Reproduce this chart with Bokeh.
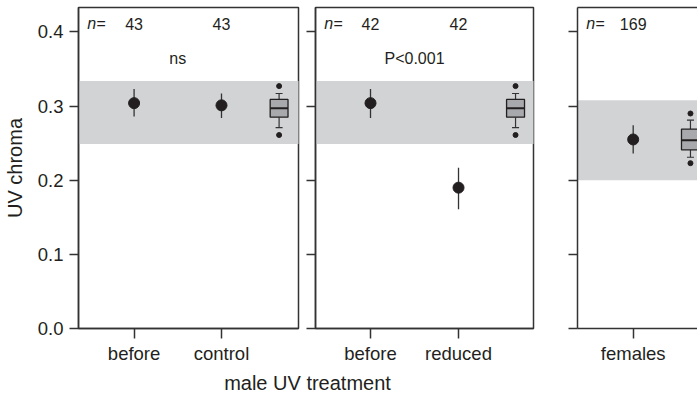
from bokeh.plotting import figure
from bokeh.layouts import row, column
from bokeh.models import (Range1d, FixedTicker, Label, LinearAxis,
                          PrintfTickFormatter, CustomJSTickFormatter)
from bokeh.core.properties import value
from bokeh.embed import file_html
from bokeh.resources import INLINE

# ---------------- data ----------------
y_ticks = [0.0, 0.1, 0.2, 0.3, 0.4]
y_max = 0.433

p1_categories = ["before", "control"]
p1_n = [43, 43]
p1_mean = [0.304, 0.301]
p1_lower = [0.286, 0.284]
p1_upper = [0.323, 0.317]
p1_test = "ns"
p1_band = [0.249, 0.334]

p2_categories = ["before", "reduced"]
p2_n = [42, 42]
p2_mean = [0.304, 0.190]
p2_lower = [0.284, 0.161]
p2_upper = [0.323, 0.217]
p2_test = "P<0.001"
p2_band = [0.249, 0.334]

p3_categories = ["females"]
p3_n = [169]
p3_mean = [0.255]
p3_lower = [0.236]
p3_upper = [0.274]
p3_band = [0.200, 0.308]

male_box_quartiles = [0.285, 0.297, 0.309]
male_box_whiskers = [0.271, 0.317]
male_box_outliers = [0.261, 0.327]

female_box_quartiles = [0.241, 0.254, 0.269]
female_box_whiskers = [0.231, 0.281]
female_box_outliers = [0.223, 0.290]

# ---------------- style ----------------
FONT = "Liberation Sans"
INK = "#231f20"
LINE = "#333333"
BAND = "#d1d3d4"
BOXFILL = "#a7a9ac"
H = 366
N_Y = 0.411
TEST_Y = 0.364
ANN_SIZE = "16px"


def make_panel(cats, n, mean, lower, upper, band, bq, bw, bo, test,
               width, left, right, x0, x1, box_offset, first=False, outline=True):
    p = figure(width=width, height=H, x_range=Range1d(x0, x1), y_range=Range1d(0, y_max),
               output_backend="svg", toolbar_location=None,
               min_border_left=left, min_border_right=right,
               min_border_top=7, min_border_bottom=H - 329)
    p.grid.visible = False
    p.background_fill_color = "white"
    p.border_fill_color = "white"
    if outline:
        p.outline_line_color = LINE
        p.outline_line_width = 1.5
        p.outline_line_alpha = 1
    else:
        p.outline_line_color = None

    pos = list(range(1, len(cats) + 1))

    # x axis
    xa = p.xaxis[0]
    xa.ticker = FixedTicker(ticks=pos)
    xa.major_label_overrides = {k: c for k, c in zip(pos, cats)}
    xa.major_tick_out = 10
    xa.major_tick_in = 0
    xa.minor_tick_line_color = None
    xa.axis_line_color = LINE
    xa.axis_line_width = 1.5
    xa.major_tick_line_color = LINE
    xa.major_tick_line_width = 1.5
    xa.major_label_text_font = FONT
    xa.major_label_text_font_size = "18.5px"
    xa.major_label_text_color = INK
    xa.major_label_standoff = 4

    # y axis
    ya = p.yaxis[0]
    ya.ticker = FixedTicker(ticks=y_ticks)
    ya.major_tick_out = 9
    ya.major_tick_in = 0
    ya.minor_tick_line_color = None
    ya.axis_line_color = LINE
    ya.axis_line_width = 1.5
    ya.major_tick_line_color = LINE
    ya.major_tick_line_width = 1.5
    if first:
        ya.formatter = PrintfTickFormatter(format="%.1f")
        ya.major_label_text_font = FONT
        ya.major_label_text_font_size = "18.5px"
        ya.major_label_text_color = INK
        ya.major_label_standoff = 6
        ya.axis_label = "UV chroma"
        ya.axis_label_text_font = FONT
        ya.axis_label_text_font_size = "20px"
        ya.axis_label_text_font_style = "normal"
        ya.axis_label_text_color = INK
        ya.axis_label_standoff = 9
    else:
        ya.formatter = CustomJSTickFormatter(code="return ''")
        ya.major_label_standoff = 0

    # shaded reference band
    p.quad(left=x0 - 1, right=x1 + 1, bottom=band[0], top=band[1],
           fill_color=BAND, line_color=None)

    # means with error bars
    p.segment(x0=pos, y0=lower, x1=pos, y1=upper, line_color=LINE, line_width=1.3)
    p.scatter(x=pos, y=mean, size=11, fill_color=INK, line_color=INK)

    # box plot
    bx = len(cats) + box_offset
    hw = 0.102
    cw = 0.04
    p.segment(x0=[bx, bx], y0=[bq[2], bq[0]], x1=[bx, bx], y1=[bw[1], bw[0]],
              line_color=LINE, line_width=1.2)
    p.segment(x0=[bx - cw, bx - cw], y0=bw, x1=[bx + cw, bx + cw], y1=bw,
              line_color=LINE, line_width=1.2)
    p.quad(left=bx - hw, right=bx + hw, bottom=bq[0], top=bq[2],
           fill_color=BOXFILL, line_color=INK, line_width=1.3)
    p.segment(x0=bx - hw, y0=bq[1], x1=bx + hw, y1=bq[1], line_color=INK, line_width=2)
    p.scatter(x=[bx] * len(bo), y=bo, size=5, fill_color=INK, line_color=INK)

    # sample sizes
    p.text(x=pos, y=[N_Y] * len(pos), text=[str(v) for v in n],
           text_font=value(FONT), text_font_size=ANN_SIZE, text_color=INK,
           text_align="center", text_baseline="alphabetic")
    p.add_layout(Label(x=x0 + 0.1, y=N_Y, text="n=", text_font=FONT,
                       text_font_size=ANN_SIZE, text_font_style="italic",
                       text_color=INK, text_align="left", text_baseline="alphabetic"))
    if test:
        p.add_layout(Label(x=(pos[0] + pos[-1]) / 2, y=TEST_Y, text=test, text_font=FONT,
                           text_font_size=ANN_SIZE, text_color=INK,
                           text_align="center", text_baseline="alphabetic"))
    return p


f1 = make_panel(p1_categories, p1_n, p1_mean, p1_lower, p1_upper, p1_band,
                male_box_quartiles, male_box_whiskers, male_box_outliers, p1_test,
                width=302, left=78, right=4, x0=0.364, x1=2.881, box_offset=0.659, first=True)
f2 = make_panel(p2_categories, p2_n, p2_mean, p2_lower, p2_upper, p2_band,
                male_box_quartiles, male_box_whiskers, male_box_outliers, p2_test,
                width=258, left=13, right=27, x0=0.375, x1=2.852, box_offset=0.648)
f3 = make_panel(p3_categories, p3_n, p3_mean, p3_lower, p3_upper, p3_band,
                female_box_quartiles, female_box_whiskers, female_box_outliers, None,
                width=137, left=17, right=0, x0=0.367, x1=1.731, box_offset=0.651,
                outline=False)
top = LinearAxis(ticker=FixedTicker(ticks=[]), formatter=CustomJSTickFormatter(code="return ''"),
                 axis_line_color=LINE, axis_line_width=1.5, major_tick_out=0, major_tick_in=0,
                 minor_tick_line_color=None, major_label_standoff=0)
f3.add_layout(top, "above")

# shared x-axis title
TH = 393 - H
ft = figure(width=697, height=TH, x_range=Range1d(0, 697), y_range=Range1d(0, TH),
            x_axis_type=None, y_axis_type=None, output_backend="svg", toolbar_location=None,
            min_border_left=0, min_border_right=0, min_border_top=0, min_border_bottom=0)
ft.grid.visible = False
ft.outline_line_color = None
ft.background_fill_color = "white"
ft.border_fill_color = "white"
ft.add_layout(Label(x=307, y=11, text="male UV treatment", text_font=FONT,
                    text_font_size="20px", text_color=INK,
                    text_align="center", text_baseline="alphabetic"))

layout = column(row(f1, f2, f3), ft)
open("out.html", "w").write(file_html(layout, INLINE))
